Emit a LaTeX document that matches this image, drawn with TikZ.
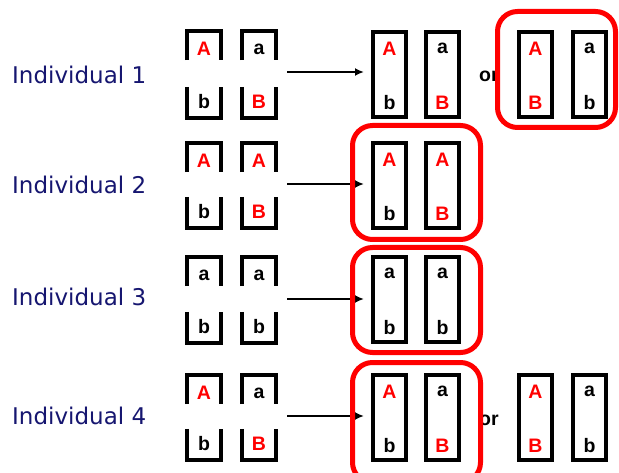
\documentclass[tikz,border=0pt]{standalone}
\usepackage{fontspec}
\setmainfont{Liberation Sans}
\newfontfamily\labelfont{DejaVu Sans}
\usetikzlibrary{arrows.meta}
\definecolor{navy}{RGB}{22,22,112}
\definecolor{allelered}{RGB}{255,0,0}

\tikzset{
  lab/.style={font=\labelfont\fontsize{23}{23}\selectfont, text=navy, inner sep=0pt, anchor=base west},
  allele/.style={font=\bfseries\fontsize{19.5}{19.5}\selectfont, inner sep=0pt},
  orword/.style={font=\bfseries\fontsize{19.5}{19.5}\selectfont, inner sep=0pt, anchor=base west},
  brkbox/.style={rectangle, draw=none, inner sep=0pt, minimum width=34pt},
  brk/.style={line width=4pt, line join=miter},
  chrom/.style={rectangle, draw, line width=4pt, inner sep=0pt, minimum width=33pt, minimum height=85pt},
  redbox/.style={rectangle, draw=allelered, line width=5pt, rounded corners=20pt, inner sep=0pt},
  arr/.style={line width=1.8pt, -{Latex[length=9pt,width=8pt]}},
}

% half chromatid, open at the bottom: name, left edge, top edge, letter, colour
\newcommand\capbrk[5]{%
  \node[brkbox, minimum height=29pt] (#1) at ({#2+19}, {#3+16.5}) {};
  \draw[brk] (#1.south west) -- (#1.north west) -- (#1.north east) -- (#1.south east);
  \node[allele, text=#5] (#1-l) at ({#2+19}, {#3+20}) {#4};
}
% half chromatid, open at the top: name, left edge, top edge, letter, colour
\newcommand\cupbrk[5]{%
  \node[brkbox, minimum height=31pt] (#1) at ({#2+19}, {#3+15.5}) {};
  \draw[brk] (#1.north west) -- (#1.south west) -- (#1.south east) -- (#1.north east);
  \node[allele, text=#5] (#1-l) at ({#2+19}, {#3+14.5}) {#4};
}
% whole chromosome: name, left edge, top edge, upper letter, colour, lower letter, colour
\newcommand\chromo[7]{%
  \node[chrom] (#1) at ({#2+18.5}, {#3+44.5}) {};
  \node[allele, text=#5] (#1-u) at ({#2+18.5}, {#3+18.5}) {#4};
  \node[allele, text=#7] (#1-d) at ({#2+18.5}, {#3+72.5}) {#6};
}

\begin{document}
\begin{tikzpicture}[x=1pt, y=-1pt]
  \clip (0,0) rectangle (619,473);
  \fill[white] (0,0) rectangle (619,473);

  % ---------- Individual 1 ----------
  \node[lab] (lab1) at (12,84) {Individual 1};
  \capbrk{p1a}{185}{29}{A}{allelered}
  \capbrk{p1b}{240}{29}{a}{black}
  \cupbrk{p1c}{185}{87}{b}{black}
  \cupbrk{p1d}{240}{87}{B}{allelered}
  \chromo{c1a}{371}{30}{A}{allelered}{b}{black}
  \chromo{c1b}{424}{30}{a}{black}{B}{allelered}
  \node[orword] (or1) at (479,82) {or};
  \chromo{c1c}{517}{30}{A}{allelered}{B}{allelered}
  \chromo{c1d}{571}{30}{a}{black}{b}{black}
  \coordinate (s1) at (287,72);
  \coordinate (e1) at (364,72);
  \draw[arr] (s1) -- (e1);
  \node[redbox, minimum width=118pt, minimum height=116pt] (r1) at (556.5,69.5) {};

  % ---------- Individual 2 ----------
  \node[lab] (lab2) at (12,193.5) {Individual 2};
  \capbrk{p2a}{185}{141}{A}{allelered}
  \capbrk{p2b}{240}{141}{A}{allelered}
  \cupbrk{p2c}{185}{197}{b}{black}
  \cupbrk{p2d}{240}{197}{B}{allelered}
  \chromo{c2a}{371}{141}{A}{allelered}{b}{black}
  \chromo{c2b}{424}{141}{A}{allelered}{B}{allelered}
  \coordinate (s2) at (287,184);
  \coordinate (e2) at (364,184);
  \draw[arr] (s2) -- (e2);
  \node[redbox, minimum width=128pt, minimum height=114pt] (r2) at (416.5,182.5) {};

  % ---------- Individual 3 ----------
  \node[lab] (lab3) at (12,305.5) {Individual 3};
  \capbrk{p3a}{185}{255}{a}{black}
  \capbrk{p3b}{240}{255}{a}{black}
  \cupbrk{p3c}{185}{312}{b}{black}
  \cupbrk{p3d}{240}{312}{b}{black}
  \chromo{c3a}{371}{255}{a}{black}{b}{black}
  \chromo{c3b}{424}{255}{a}{black}{b}{black}
  \coordinate (s3) at (287,299);
  \coordinate (e3) at (364,299);
  \draw[arr] (s3) -- (e3);
  \node[redbox, minimum width=128pt, minimum height=105pt] (r3) at (416.5,300) {};

  % ---------- Individual 4 ----------
  \node[lab] (lab4) at (12,424) {Individual 4};
  \capbrk{p4a}{185}{373}{A}{allelered}
  \capbrk{p4b}{240}{373}{a}{black}
  \cupbrk{p4c}{185}{429}{b}{black}
  \cupbrk{p4d}{240}{429}{B}{allelered}
  \chromo{c4a}{371}{373}{A}{allelered}{b}{black}
  \chromo{c4b}{424}{373}{a}{black}{B}{allelered}
  \node[orword] (or4) at (479,425) {or};
  \chromo{c4c}{517}{373}{A}{allelered}{B}{allelered}
  \chromo{c4d}{571}{373}{a}{black}{b}{black}
  \coordinate (s4) at (287,416);
  \coordinate (e4) at (364,416);
  \draw[arr] (s4) -- (e4);
  \node[redbox, minimum width=128pt, minimum height=120pt] (r4) at (416.5,422.5) {};
\end{tikzpicture}
\end{document}
